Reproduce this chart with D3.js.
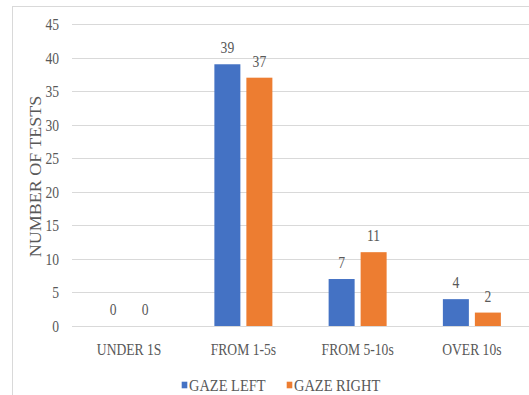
<!DOCTYPE html>
<html>
<head>
<meta charset="utf-8">
<script src="https://cdn.jsdelivr.net/npm/d3@7"></script>
<style>
  html, body { margin: 0; padding: 0; background: #fff; }
  svg { display: block; }
</style>
</head>
<body>
<svg id="chart" width="529" height="395"></svg>
<script>
// Test duration buckets and counts per gaze direction
const categories = ["UNDER 1S", "FROM 1-5s", "FROM 5-10s", "OVER 10s"];
const seriesNames = ["GAZE LEFT", "GAZE RIGHT"];
const gazeLeft = [0, 39, 7, 4];
const gazeRight = [0, 37, 11, 2];
const yTicks = [0, 5, 10, 15, 20, 25, 30, 35, 40, 45];
const colors = ["#4472C4", "#ED7D31"];

const FONT = '"Liberation Serif"';
const TEXT_COLOR = "#595959";
const SQUEEZE = 0.8;   // narrow, tall serif lettering
const svg = d3.select("#chart");
const W = 529, H = 395;
const margin = { left: 72, right: 0, top: 24, bottom: 68 };

function styleText(sel, size) {
  return sel.style("font-family", FONT).style("font-size", size + "px").style("fill", TEXT_COLOR);
}

// outer chart frame
svg.append("rect")
  .attr("x", 12.5).attr("y", 6.5)
  .attr("width", W + 10).attr("height", H + 10)
  .attr("fill", "#fff").attr("stroke", "#d9d9d9").attr("stroke-width", 1);

const x0 = d3.scaleBand().domain(categories)
  .range([margin.left, W - margin.right]).paddingInner(0).paddingOuter(0);
const y = d3.scaleLinear().domain([0, 45]).range([H - margin.bottom - 1, margin.top]);

// gridlines
svg.append("g").selectAll("line").data(yTicks).join("line")
  .attr("x1", margin.left).attr("x2", W)
  .attr("y1", d => Math.round(y(d)) + 0.5).attr("y2", d => Math.round(y(d)) + 0.5)
  .attr("stroke", "#d9d9d9").attr("stroke-width", 1);

// y axis labels
const yAxis = d3.axisLeft(y).tickValues(yTicks).tickSize(0);
const gy = svg.append("g").attr("transform", `translate(${margin.left},0)`).call(yAxis);
gy.select(".domain").remove();
styleText(gy.selectAll("text"), 17)
  .attr("x", -13 / SQUEEZE)
  .attr("transform", `scale(${SQUEEZE},1)`);

// x axis labels
const xAxis = d3.axisBottom(x0).tickSize(0);
const gx = svg.append("g").attr("transform", `translate(0,${y(0)})`).call(xAxis);
gx.select(".domain").remove();
styleText(gx.selectAll("text"), 17)
  .attr("y", 29.5).attr("dy", null)
  .attr("transform", `scale(${SQUEEZE},1)`);

// axis title
styleText(svg.append("text")
  .attr("transform", `translate(41,${(y(0) + y(45)) / 2 + 1.5}) scale(0.9,1) rotate(-90)`)
  .attr("text-anchor", "middle")
  .text("NUMBER OF TESTS"), 18);

// bars
const barW = 26, gap = 6;
const rows = categories.map((c, i) => ({ cat: c, vals: [gazeLeft[i], gazeRight[i]] }));
const groups = svg.append("g").selectAll("g").data(rows).join("g")
  .attr("transform", d => `translate(${x0(d.cat) + x0.bandwidth() / 2},0)`);

groups.selectAll("rect").data(d => d.vals.map((v, s) => ({ v, s }))).join("rect")
  .attr("x", d => d.s === 0 ? -gap / 2 - barW : gap / 2)
  .attr("y", d => y(d.v))
  .attr("width", barW)
  .attr("height", d => y(0) - y(d.v))
  .attr("fill", d => colors[d.s]);

// value labels above bars
const labels = groups.selectAll("g.val").data(d => d.vals.map((v, s) => ({ v, s }))).join("g")
  .attr("class", "val")
  .attr("transform", d => `translate(${d.s === 0 ? -gap / 2 - barW / 2 : gap / 2 + barW / 2},${y(d.v) - 11}) scale(${SQUEEZE},1)`);
styleText(labels.append("text").attr("text-anchor", "middle").text(d => d.v), 17);

// legend
const legendX = [181.7, 286.7];
seriesNames.forEach((name, i) => {
  svg.append("rect").attr("x", legendX[i]).attr("y", 381.7).attr("width", 5.6).attr("height", 6.6)
    .attr("fill", colors[i]);
  styleText(svg.append("g").attr("transform", `translate(${legendX[i] + 7.3},390.7) scale(0.85,1)`)
    .append("text").text(name), 17);
});
</script>
</body>
</html>
